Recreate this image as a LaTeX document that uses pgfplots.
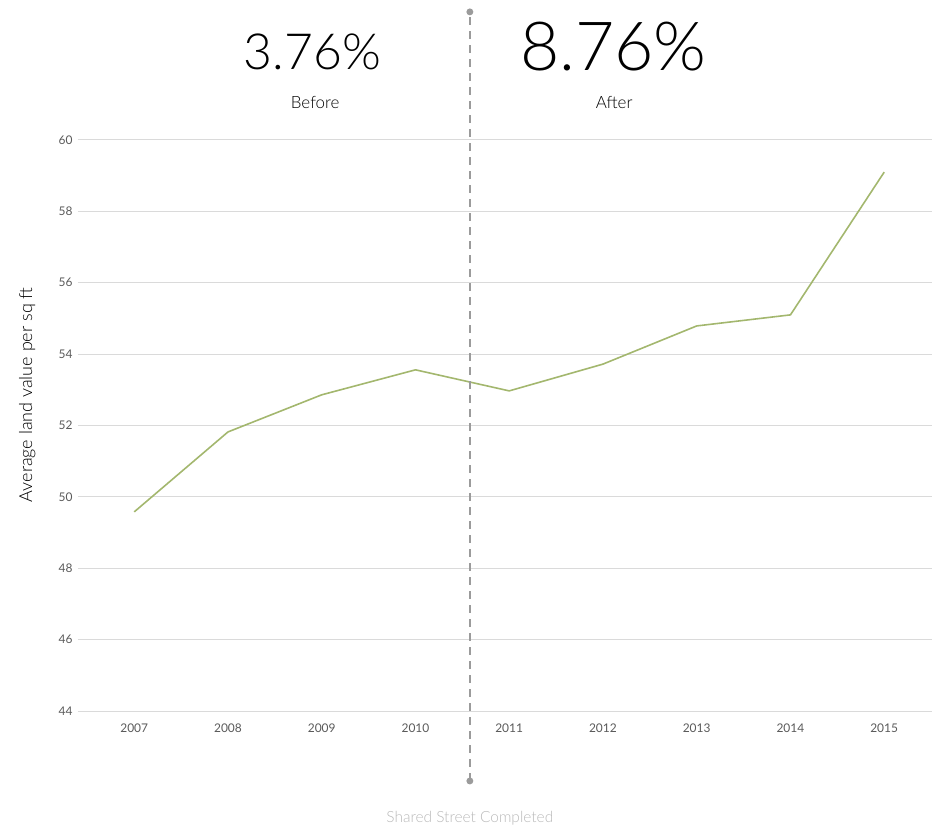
\documentclass[border=0pt]{standalone}
\usepackage{fontspec}
\setmainfont{Lato}
\newfontfamily\lightfont{Lato Light}
\usepackage{pgfplots}
\pgfplotsset{compat=1.18}

\definecolor{linegreen}{RGB}{163,183,110}
\definecolor{gridgray}{RGB}{218,218,218}
\definecolor{tickgray}{RGB}{90,90,90}
\definecolor{dashgray}{RGB}{155,155,155}
\definecolor{notegray}{RGB}{185,185,185}

\begin{document}
\begin{tikzpicture}[x=1bp,y=1bp]
\begin{axis}[
    scale only axis,
    width=854bp,
    height=571bp,
    xmin=2006.40, xmax=2015.51,
    ymin=44, ymax=60,
    clip=false,
    axis line style={draw=none},
    tick style={draw=none},
    xtick={2007,...,2015},
    ytick={44,46,...,60},
    ymajorgrids=true,
    grid style={gridgray, line width=1bp},
    xticklabel style={font=\fontsize{12}{14}\selectfont, text=tickgray, yshift=-9bp},
    yticklabel style={font=\fontsize{12}{14}\selectfont, text=tickgray, xshift=-2bp},
    /pgf/number format/assume math mode=true,
    /pgf/number format/1000 sep={},
]

% average land value per sq ft
\addplot[linegreen, line width=1.6bp, no marks] coordinates {
    (2007, 49.58)
    (2008, 51.82)
    (2009, 52.86)
    (2010, 53.56)
    (2011, 52.97)
    (2012, 53.72)
    (2013, 54.79)
    (2014, 55.10)
    (2015, 59.10)
};

% shared street completed marker
\addplot[dashgray, line width=1.6bp, dash pattern=on 8bp off 6bp,
    mark=*, mark size=2.6bp, mark options={solid, fill=dashgray, draw=dashgray}]
    coordinates {(2010.58, 42.04) (2010.58, 63.59)};

\node[font=\lightfont\fontsize{50}{54}\selectfont] at (axis cs:2008.90, 62.47) {3.76\%};
\node[font=\lightfont\fontsize{68}{72}\selectfont] at (axis cs:2012.11, 62.62) {8.76\%};
\node[font=\lightfont\fontsize{17}{20}\selectfont] at (axis cs:2008.93, 61.04) {Before};
\node[font=\lightfont\fontsize{17}{20}\selectfont] at (axis cs:2012.12, 61.04) {After};
\node[font=\lightfont\fontsize{15.5}{18}\selectfont, text=notegray] at (axis cs:2010.58, 40.99) {Shared Street Completed};
\node[font=\lightfont\fontsize{18}{21}\selectfont, rotate=90] at (axis cs:2005.86, 52.86) {Average land value per sq ft};

\end{axis}
\path[use as bounding box] (-78bp,-116bp) rectangle (861bp,711bp);
\end{tikzpicture}
\end{document}
